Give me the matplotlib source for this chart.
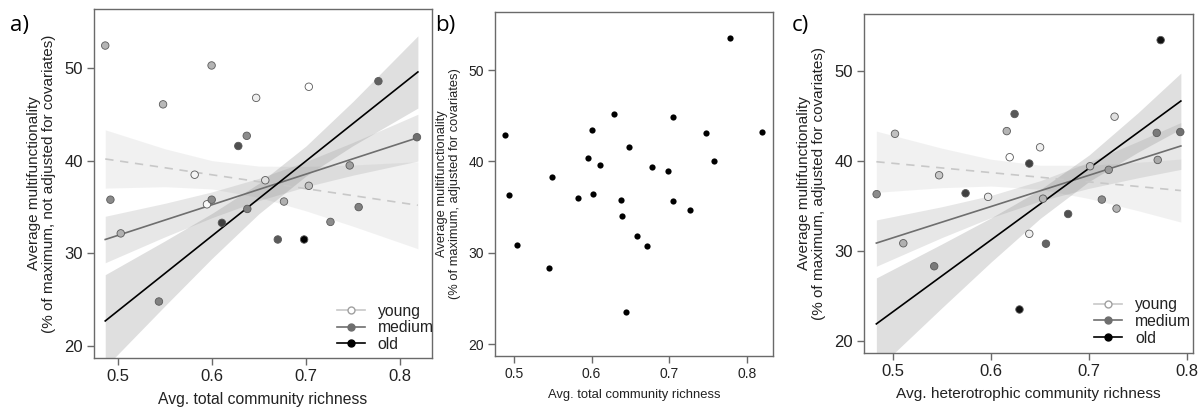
import matplotlib
matplotlib.use("Agg")
import matplotlib.pyplot as plt
from matplotlib.lines import Line2D

plt.rcParams['font.family'] = ['Liberation Sans', 'DejaVu Sans']

# ---------------- data ----------------
# Panel a: total richness vs multifunctionality (not adjusted)
a_x = [0.4865, 0.5996, 0.548, 0.703, 0.647, 0.777, 0.637, 0.628, 0.818, 0.5816,
       0.6567, 0.7465, 0.703, 0.492, 0.5947, 0.5997, 0.6766, 0.756, 0.503, 0.6376,
       0.6106, 0.726, 0.670, 0.698, 0.5436]
a_y = [52.45, 50.3, 46.1, 48.0, 46.8, 48.6, 42.7, 41.6, 42.55, 38.5,
       37.9, 39.5, 37.3, 35.8, 35.3, 35.8, 35.6, 35.0, 32.16, 34.8,
       33.3, 33.4, 31.5, 31.5, 24.8]
# grey level of each point fill (plot age: 255 = young/white ... 0 = old/black)
a_shade = [180, 180, 184, 255, 238, 96, 140, 80, 110, 245,
           224, 160, 192, 138, 248, 138, 176, 128, 176, 128,
           64, 140, 90, 0, 128]

# Panel b: total richness vs multifunctionality (adjusted)
b_x = [0.488, 0.493, 0.504, 0.545, 0.549, 0.583, 0.596, 0.6006, 0.6015, 0.611,
       0.629, 0.638, 0.639, 0.6445, 0.648, 0.659, 0.671, 0.678, 0.699, 0.705,
       0.705, 0.7275, 0.748, 0.758, 0.779, 0.820]
b_y = [42.9, 36.3, 30.8, 28.3, 38.3, 35.95, 40.4, 43.4, 36.4, 39.6,
       45.2, 35.8, 34.0, 23.5, 41.6, 31.8, 30.7, 39.4, 39.0, 44.9,
       35.7, 34.7, 43.1, 40.0, 53.5, 43.2]

# Panel c: heterotrophic richness vs multifunctionality (adjusted)
c_x = [0.4833, 0.502, 0.547, 0.574, 0.597, 0.616, 0.624, 0.619, 0.650, 0.639,
       0.653, 0.5105, 0.542, 0.639, 0.656, 0.6786, 0.629, 0.701, 0.720, 0.713,
       0.728, 0.726, 0.769, 0.770, 0.793, 0.773]
c_y = [36.3, 43.0, 38.4, 36.4, 36.0, 43.3, 45.2, 40.4, 41.5, 39.7,
       35.8, 30.85, 28.3, 31.9, 30.8, 34.1, 23.5, 39.4, 39.0, 35.7,
       34.7, 44.9, 43.1, 40.1, 43.2, 53.4]
c_shade = [140, 192, 200, 64, 232, 180, 88, 255, 240, 64,
           180, 176, 122, 240, 100, 80, 16, 192, 153, 140,
           180, 224, 122, 170, 112, 16]

# Fitted lines and 95% confidence bands
a_fx = [0.4865, 0.55, 0.60, 0.65, 0.70, 0.75, 0.819]
a_young_fit = [40.2, 39.25, 38.49, 37.74, 36.99, 36.24, 35.2]
a_young_lo = [37.05, 37.2, 36.96, 36.05, 34.59, 32.93, 30.5]
a_young_hi = [43.35, 41.3, 40.02, 39.43, 39.39, 39.55, 39.9]
a_medium_fit = [31.5, 33.6, 35.25, 36.91, 38.56, 40.22, 42.5]
a_medium_lo = [28.99, 31.79, 33.86, 35.71, 37.2, 38.45, 39.97]
a_medium_hi = [34.01, 35.41, 36.64, 38.11, 39.92, 41.99, 45.03]
a_old_fit = [22.7, 27.84, 31.89, 35.93, 39.98, 44.03, 49.6]
a_old_lo = [17.7, 24.33, 29.46, 34.29, 38.36, 41.64, 45.7]
a_old_hi = [27.7, 31.35, 34.32, 37.57, 41.6, 46.42, 53.5]

c_fx = [0.483, 0.55, 0.60, 0.65, 0.70, 0.75, 0.7936]
c_young_fit = [39.9, 39.21, 38.69, 38.18, 37.66, 37.15, 36.7]
c_young_lo = [36.5, 37.02, 37.2, 36.85, 35.81, 34.46, 33.2]
c_young_hi = [43.3, 41.4, 40.18, 39.51, 39.51, 39.84, 40.2]
c_medium_fit = [30.87, 33.2, 34.93, 36.67, 38.4, 40.14, 41.65]
c_medium_lo = [28.3, 31.49, 33.7, 35.55, 36.95, 38.12, 39.05]
c_medium_hi = [33.44, 34.91, 36.16, 37.79, 39.85, 42.16, 44.25]
c_old_fit = [21.9, 27.24, 31.22, 35.2, 39.18, 43.16, 46.64]
c_old_lo = [16.8, 23.7, 28.77, 33.6, 37.71, 40.97, 43.54]
c_old_hi = [27.0, 30.78, 33.67, 36.8, 40.65, 45.35, 49.74]

x_ticks = [0.5, 0.6, 0.7, 0.8]
y_ticks = [20, 30, 40, 50]
age_labels = ['young', 'medium', 'old']

# ---------------- styling ----------------
SPINE = '#6a6a6a'
TXT = '#222222'


def style_axes(ax, xlim, ylim, tsize):
    ax.set_xlim(*xlim)
    ax.set_ylim(*ylim)
    ax.set_xticks(x_ticks)
    ax.set_yticks(y_ticks)
    ax.set_xticklabels([f'{t:.1f}' for t in x_ticks])
    for s in ax.spines.values():
        s.set_color(SPINE)
        s.set_linewidth(1.0)
    ax.tick_params(direction='out', length=5, width=1.0, color=SPINE,
                   labelsize=tsize, labelcolor=TXT, pad=3)


def grey(v):
    v = v / 255.0
    return (v, v, v)


def draw_fits(ax, fx, fits):
    band_styles = [('#bdbdbd', 0.20), ('#a0a0a0', 0.25), ('#808080', 0.25)]
    line_styles = [('#c8c8c8', (0, (5, 4))), ('#6e6e6e', '-'), ('#000000', '-')]
    for (fit, lo, hi), (bc, ba) in zip(fits, band_styles):
        ax.fill_between(fx, lo, hi, color=bc, alpha=ba, linewidth=0, zorder=1)
    for (fit, lo, hi), (lc, ls) in zip(fits, line_styles):
        ax.plot(fx, fit, color=lc, linestyle=ls, linewidth=1.2, zorder=2)


def legend(ax, fs, anchor):
    handles = [
        Line2D([], [], color='#c8c8c8', lw=1.2, marker='o', markersize=5,
               markerfacecolor='white', markeredgecolor='#a0a0a0'),
        Line2D([], [], color='#6e6e6e', lw=1.2, marker='o', markersize=5,
               markerfacecolor='#6e6e6e', markeredgecolor='#6e6e6e'),
        Line2D([], [], color='black', lw=1.2, marker='o', markersize=5,
               markerfacecolor='black', markeredgecolor='black'),
    ]
    ax.legend(handles, age_labels, loc='lower right', frameon=False,
              fontsize=fs, handlelength=1.8, handletextpad=0.8,
              labelspacing=0.1, borderaxespad=0.25, labelcolor=TXT,
              bbox_to_anchor=anchor)


fig = plt.figure(figsize=(12.03, 4.11), dpi=100)

# ---- panel a ----
ax_a = fig.add_axes([0.0781, 0.129, 0.2810, 0.8491])
draw_fits(ax_a, a_fx, [(a_young_fit, a_young_lo, a_young_hi),
                       (a_medium_fit, a_medium_lo, a_medium_hi),
                       (a_old_fit, a_old_lo, a_old_hi)])
ax_a.scatter(a_x, a_y, s=29, c=[grey(v) for v in a_shade],
             edgecolors='#5a5a5a', linewidths=0.6, zorder=3)
style_axes(ax_a, (0.4745, 0.834), (18.7, 56.4), 12)
ax_a.set_ylabel('Average multifunctionality\n(% of maximum, not adjusted for covariates)',
                fontsize=11, color=TXT, labelpad=6, linespacing=1.1)
ax_a.set_xlabel('Avg. total community richness', fontsize=11.3, color=TXT, labelpad=6)
legend(ax_a, 11.3, (1.035, -0.012))

# ---- panel b ----
ax_b = fig.add_axes([0.4115, 0.1338, 0.2311, 0.8370])
ax_b.scatter(b_x, b_y, s=20, color='black', linewidths=0, zorder=3)
style_axes(ax_b, (0.4755, 0.834), (18.7, 56.35), 10)
ax_b.set_ylabel('Average multifunctionality\n(% of maximum, adjusted for covariates)',
                fontsize=9.3, color=TXT, labelpad=5, linespacing=1.1)
ax_b.set_xlabel('Avg. total community richness', fontsize=9.4, color=TXT, labelpad=6)

# ---- panel c ----
ax_c = fig.add_axes([0.7182, 0.1411, 0.2735, 0.8249])
draw_fits(ax_c, c_fx, [(c_young_fit, c_young_lo, c_young_hi),
                       (c_medium_fit, c_medium_lo, c_medium_hi),
                       (c_old_fit, c_old_lo, c_old_hi)])
ax_c.scatter(c_x, c_y, s=29, c=[grey(v) for v in c_shade],
             edgecolors='#5a5a5a', linewidths=0.6, zorder=3)
style_axes(ax_c, (0.4704, 0.806), (18.67, 56.3), 12)
ax_c.set_ylabel('Average multifunctionality\n(% of maximum, adjusted for covariates)',
                fontsize=11, color=TXT, labelpad=6, linespacing=1.1)
ax_c.set_xlabel('Avg. heterotrophic community richness', fontsize=11.1, color=TXT, labelpad=6)
legend(ax_c, 11.3, (1.025, -0.008))

# panel letters
for xpos, lab in [(0.008, 'a)'), (0.362, 'b)'), (0.658, 'c)')]:
    fig.text(xpos, 0.925, lab, fontsize=16, color='black', family=['Open Sans', 'DejaVu Sans'])

fig.savefig('out.png', dpi=100)
